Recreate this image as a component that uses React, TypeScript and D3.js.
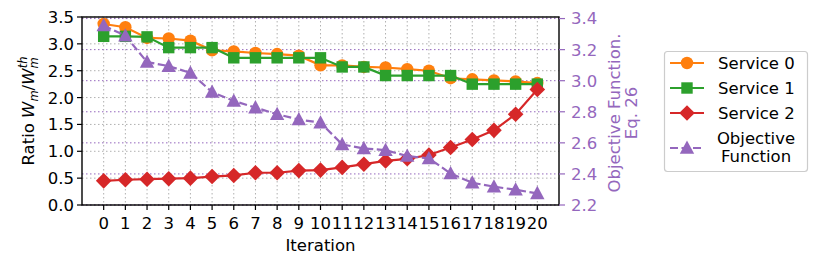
import * as d3 from "d3";

// iteration index
const iterations = d3.range(0, 21);

// Ratio W_m / W_m^th per service
const service0 = [3.37, 3.31, 3.11, 3.1, 3.06, 2.88, 2.86, 2.83, 2.81, 2.78, 2.6, 2.6, 2.57, 2.56, 2.53, 2.5, 2.36, 2.34, 2.32, 2.3, 2.27];
const service1 = [3.14, 3.14, 3.13, 2.93, 2.93, 2.93, 2.74, 2.74, 2.74, 2.74, 2.74, 2.57, 2.57, 2.41, 2.41, 2.41, 2.41, 2.25, 2.25, 2.25, 2.25];
const service2 = [0.45, 0.47, 0.48, 0.49, 0.5, 0.53, 0.55, 0.6, 0.6, 0.64, 0.65, 0.7, 0.76, 0.82, 0.86, 0.93, 1.07, 1.22, 1.39, 1.69, 2.15];

// objective function (right axis)
const objective = [3.355, 3.29, 3.12, 3.094, 3.05, 2.927, 2.87, 2.827, 2.784, 2.75, 2.73, 2.59, 2.564, 2.553, 2.515, 2.5, 2.403, 2.343, 2.318, 2.298, 2.275];

const leftTicks = [0, 0.5, 1, 1.5, 2, 2.5, 3, 3.5];
const rightTicks = [2.2, 2.4, 2.6, 2.8, 3.0, 3.2, 3.4];

const legendLabels = ["Service 0", "Service 1", "Service 2"];

const W = 830;
const H = 260;
const m = { left: 82, right: 559, top: 17, bottom: 205 };
const FONT = "DejaVu Sans, sans-serif";
const FS = 16.5;
const FSS = 11.5;

const ORANGE = "#ff7f0e";
const GREEN = "#2ca02c";
const RED = "#d62728";
const PURPLE = "#9467bd";

const x = d3.scaleLinear().domain([-1, 21]).range([m.left, m.right]);
const yL = d3.scaleLinear().domain([0, 3.5]).range([m.bottom, m.top]);
const yR = d3.scaleLinear().domain([2.2, 3.41]).range([m.bottom, m.top]);

const Marker = ({ kind, cx, cy, color }: { kind: string; cx: number; cy: number; color: string }) => {
  if (kind === "circle") return <circle cx={cx} cy={cy} r={6.2} fill={color} />;
  if (kind === "square") return <rect x={cx - 5.7} y={cy - 5.7} width={11.4} height={11.4} fill={color} />;
  if (kind === "diamond")
    return <path d={`M${cx},${cy - 7.8}L${cx + 7.8},${cy}L${cx},${cy + 7.8}L${cx - 7.8},${cy}Z`} fill={color} />;
  return <path d={`M${cx},${cy - 7.5}L${cx + 7.2},${cy + 5.8}L${cx - 7.2},${cy + 5.8}Z`} fill={color} />;
};

const App = () => {
  const lineL = d3.line<number>().x((_, i) => x(iterations[i])).y((d) => yL(d));
  const lineR = d3.line<number>().x((_, i) => x(iterations[i])).y((d) => yR(d));

  const series = [
    { data: service0, color: ORANGE, kind: "circle" },
    { data: service1, color: GREEN, kind: "square" },
    { data: service2, color: RED, kind: "diamond" },
  ];

  return (
    <svg width={W} height={H} style={{ position: "absolute", left: 0, top: 0 }} fontFamily={FONT}>
      <rect width={W} height={H} fill="white" />
      {/* grid */}
      {iterations.map((t) => (
        <line key={"vg" + t} x1={x(t)} x2={x(t)} y1={m.top} y2={m.bottom} stroke="#b0b0b0" strokeWidth={1} strokeDasharray="1.5,2.5" />
      ))}
      {leftTicks.map((t) => (
        <line key={"hg" + t} x1={m.left} x2={m.right} y1={yL(t)} y2={yL(t)} stroke="#b0b0b0" strokeWidth={1} strokeDasharray="1.5,2.5" />
      ))}
      {rightTicks.map((t) => (
        <line key={"rg" + t} x1={m.left} x2={m.right} y1={yR(t)} y2={yR(t)} stroke={PURPLE} strokeWidth={1} strokeDasharray="1.5,2.5" />
      ))}

      {/* service lines */}
      {series.map((s, k) => (
        <g key={"s" + k}>
          <path d={lineL(s.data) || ""} fill="none" stroke={s.color} strokeWidth={2.2} />
          {s.data.map((d, i) => (
            <Marker key={i} kind={s.kind} cx={x(iterations[i])} cy={yL(d)} color={s.color} />
          ))}
        </g>
      ))}

      {/* objective */}
      <path d={lineR(objective) || ""} fill="none" stroke={PURPLE} strokeWidth={2.2} strokeDasharray="8,3.5" />
      {objective.map((d, i) => (
        <Marker key={"o" + i} kind="triangle" cx={x(iterations[i])} cy={yR(d)} color={PURPLE} />
      ))}

      {/* spines */}
      <rect x={m.left} y={m.top} width={m.right - m.left} height={m.bottom - m.top} fill="none" stroke="black" strokeWidth={1.4} />

      {/* left axis */}
      {leftTicks.map((t) => (
        <g key={"lt" + t}>
          <line x1={m.left - 5} x2={m.left} y1={yL(t)} y2={yL(t)} stroke="black" strokeWidth={1.2} />
          <text x={m.left - 8} y={yL(t)} dy="0.36em" textAnchor="end" fontSize={FS}>
            {t.toFixed(1)}
          </text>
        </g>
      ))}
      <text transform={`translate(34,${(m.top + m.bottom) / 2}) rotate(-90)`} textAnchor="middle" fontSize={FS}>
        Ratio <tspan fontStyle="italic">W</tspan>
        <tspan fontStyle="italic" fontSize={FSS} dy={3.5}>m</tspan>
        <tspan dy={-3.5}>/</tspan>
        <tspan fontStyle="italic">W</tspan>
        <tspan fontStyle="italic" fontSize={FSS} dy={3.5}>m</tspan>
        <tspan fontStyle="italic" fontSize={FSS} dx={-11} dy={-11}>th</tspan>
      </text>

      {/* bottom axis */}
      {iterations.map((t) => (
        <g key={"bt" + t}>
          <line x1={x(t)} x2={x(t)} y1={m.bottom} y2={m.bottom + 5} stroke="black" strokeWidth={1.2} />
          <text x={x(t)} y={m.bottom + 24} textAnchor="middle" fontSize={FS}>
            {t}
          </text>
        </g>
      ))}
      <text x={(m.left + m.right) / 2} y={251} textAnchor="middle" fontSize={FS}>
        Iteration
      </text>

      {/* right axis */}
      {rightTicks.map((t) => (
        <g key={"rt" + t}>
          <line x1={m.right} x2={m.right + 6} y1={yR(t)} y2={yR(t)} stroke={PURPLE} strokeWidth={1.2} />
          <text x={m.right + 12} y={yR(t)} dy="0.36em" textAnchor="start" fontSize={FS} fill={PURPLE}>
            {t.toFixed(1)}
          </text>
        </g>
      ))}
      <text transform={`translate(620,${(m.top + m.bottom) / 2 + 2}) rotate(-90)`} textAnchor="middle" fontSize={FS} fill={PURPLE}>
        Objective Function.
      </text>
      <text transform={`translate(637,${(m.top + m.bottom) / 2 + 2}) rotate(-90)`} textAnchor="middle" fontSize={FS} fill={PURPLE}>
        Eq. 26
      </text>

      {/* legend */}
      <g>
        <rect x={664.5} y={51.5} width={143} height={120} rx={3} fill="white" stroke="#cccccc" strokeWidth={1.2} />
        {series.map((s, k) => {
          const ly = 63 + k * 25;
          return (
            <g key={"lg" + k}>
              <line x1={670} x2={704} y1={ly} y2={ly} stroke={s.color} strokeWidth={2.2} />
              <Marker kind={s.kind} cx={687} cy={ly} color={s.color} />
              <text x={718} y={ly} dy="0.36em" fontSize={FS}>
                {legendLabels[k]}
              </text>
            </g>
          );
        })}
        <line x1={670} x2={704} y1={148} y2={148} stroke={PURPLE} strokeWidth={2.2} strokeDasharray="8,3.5" />
        <Marker kind="triangle" cx={687} cy={148} color={PURPLE} />
        <text x={756} y={138} dy="0.36em" textAnchor="middle" fontSize={FS}>
          Objective
        </text>
        <text x={756} y={156} dy="0.36em" textAnchor="middle" fontSize={FS}>
          Function
        </text>
      </g>
    </svg>
  );
};

export default App;
